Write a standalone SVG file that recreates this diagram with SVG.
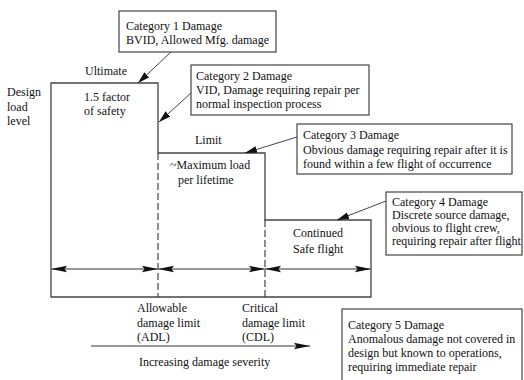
<svg xmlns="http://www.w3.org/2000/svg" width="524" height="380" viewBox="0 0 524 380">
<defs>
<style>
text{font-family:"Liberation Serif","Times New Roman",serif;font-size:12px;fill:#111}
.box{fill:#fff;stroke:#444;stroke-width:1.2}
.outline{fill:none;stroke:#444;stroke-width:1.3}
.dash{stroke:#333;stroke-width:1.1;stroke-dasharray:7 3;fill:none}
.dim{stroke:#777;stroke-width:1.5;fill:none}
.call{stroke:#444;stroke-width:1;fill:none}
</style>
<marker id="dimArrow" markerUnits="userSpaceOnUse" markerWidth="18" markerHeight="10" refX="16" refY="4" orient="auto-start-reverse">
<path d="M0,0.8 L16,4 L0,7.2 L2.5,4 Z" fill="#111"/>
</marker>
<marker id="callArrow" markerUnits="userSpaceOnUse" markerWidth="13" markerHeight="8" refX="12" refY="3.5" orient="auto">
<path d="M0,0 L12,3.5 L0,7 Z" fill="#111"/>
</marker>
</defs>
<rect width="524" height="380" fill="#fff"/>

<g id="load-envelope">
<path class="outline" d="M51,297 L51,83 L158,83 L158,153 L265,153 L265,220 L371,220 L371,297 Z"/>
<line class="dash" x1="158" y1="153" x2="158" y2="297"/>
<line class="dash" x1="265" y1="220" x2="265" y2="297"/>
</g>

<g id="axis-labels">
<text x="7" y="96">Design</text>
<text x="7" y="111">load</text>
<text x="7" y="125">level</text>
<text x="85" y="75">Ultimate</text>
<text x="84" y="101">1.5 factor</text>
<text x="84" y="115">of safety</text>
<text x="195" y="144">Limit</text>
<text x="170" y="169">~Maximum load</text>
<text x="178" y="184">per lifetime</text>
<text x="293" y="237">Continued</text>
<text x="293" y="253">Safe flight</text>
<text x="137" y="312">Allowable</text>
<text x="137" y="327">damage limit</text>
<text x="137" y="341">(ADL)</text>
<text x="242" y="312">Critical</text>
<text x="242" y="327">damage limit</text>
<text x="242" y="341">(CDL)</text>
<text x="139" y="366">Increasing damage severity</text>
</g>

<g id="cat1">
<rect class="box" x="119" y="11" width="157" height="41"/>
<text x="126" y="30">Category 1 Damage</text>
<text x="126" y="44">BVID, Allowed Mfg. damage</text>
</g>
<g id="cat2">
<rect class="box" x="191" y="65" width="178" height="50"/>
<text x="196" y="80">Category 2 Damage</text>
<text x="196" y="94">VID, Damage requiring repair per</text>
<text x="196" y="108">normal inspection process</text>
</g>
<g id="cat3">
<rect class="box" x="297" y="124" width="215" height="50"/>
<text x="303" y="139">Category 3 Damage</text>
<text x="303" y="154">Obvious damage requiring repair after it is</text>
<text x="303" y="168">found within a few flight of occurrence</text>
</g>
<g id="cat4">
<rect class="box" x="386" y="192" width="136" height="63"/>
<text x="392" y="206">Category 4 Damage</text>
<text x="392" y="219">Discrete source damage,</text>
<text x="392" y="232">obvious to flight crew,</text>
<text x="392" y="245">requiring repair after flight</text>
</g>
<g id="cat5">
<rect class="box" x="342" y="309" width="180" height="75"/>
<text x="348" y="329">Category 5 Damage</text>
<text x="348" y="343">Anomalous damage not covered in</text>
<text x="348" y="357">design but known to operations,</text>
<text x="348" y="371">requiring immediate repair</text>
</g>

<g id="connectors">
<line class="dim" x1="51" y1="269" x2="158" y2="269" marker-start="url(#dimArrow)" marker-end="url(#dimArrow)"/>
<line class="dim" x1="158" y1="269" x2="265" y2="269" marker-start="url(#dimArrow)" marker-end="url(#dimArrow)"/>
<line class="dim" x1="265" y1="269" x2="371" y2="269" marker-start="url(#dimArrow)" marker-end="url(#dimArrow)"/>
<line class="dim" x1="91" y1="346" x2="310" y2="346" marker-end="url(#dimArrow)"/>
<line class="call" x1="171" y1="52" x2="138" y2="83" marker-end="url(#callArrow)"/>
<line class="call" x1="191" y1="93" x2="159" y2="122" marker-end="url(#callArrow)"/>
<line class="call" x1="297" y1="137" x2="245" y2="153" marker-end="url(#callArrow)"/>
<line class="call" x1="386" y1="201" x2="337" y2="220" marker-end="url(#callArrow)"/>
</g>
</svg>
